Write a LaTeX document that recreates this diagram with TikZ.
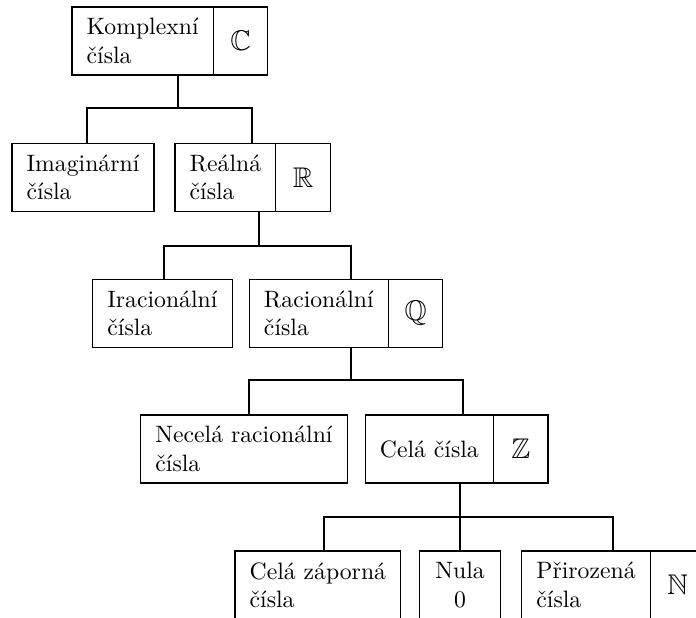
\documentclass[tikz,border=0pt]{standalone}
\usepackage{amsmath,amssymb}
\usepackage{tikz}
\usetikzlibrary{calc, positioning}

\begin{document}
\begin{tikzpicture}[x=0.422pt, y=-0.422pt,
    box/.style={draw, line width=0.5pt, anchor=north west, align=left, inner xsep=6.2pt, outer sep=0pt, minimum height=28.7pt},
    setbox/.style={draw, line width=0.5pt, outer sep=0pt, minimum width=23pt, minimum height=28.7pt, font=\large},
    edge/.style={line width=0.7pt}]
    \useasboundingbox (0,0) rectangle (696,617);

    % komplexni
    \node[box] (kompl) at (72,7) {Komplexní\\čísla};
    \node[setbox, right=0pt of kompl] (komplC) {$\mathbb{C}$};

    % imaginarni a realna
    \node[box] (imag) at (12,143.5) {Imaginární\\čísla};
    \node[box] (real) at (175,143.5) {Reálná\\čísla};
    \node[setbox, right=0pt of real] (realR) {$\mathbb{R}$};

    % iracionalni a racionalni
    \node[box] (irac) at (92.7,279.3) {Iracionální\\čísla};
    \node[box] (rac) at (249.3,279.3) {Racionální\\čísla};
    \node[setbox, right=0pt of rac] (racQ) {$\mathbb{Q}$};

    % necela a cela
    \node[box] (necela) at (140.7,415) {Necelá racionální\\čísla};
    \node[box] (cela) at (365.3,415) {Celá čísla};
    \node[setbox, right=0pt of cela] (celaZ) {$\mathbb{Z}$};

    % zaporna, nula, prirozena
    \node[box] (zapor) at (235,551) {Celá záporná\\čísla};
    \node[box, align=center, minimum width=34.4pt] (nula) at (419.3,551) {Nula\\0};
    \node[box] (prir) at (521.7,551) {Přirozená\\čísla};
    \node[setbox, right=0pt of prir] (prirN) {$\mathbb{N}$};

    % vetveni
    \coordinate (j1) at ($(kompl.south west)+(105.7,33)$);
    \coordinate (j2) at ($(real.south west)+(84.3,34.7)$);
    \coordinate (j3) at ($(rac.south west)+(102,33)$);
    \coordinate (j4) at ($(cela.south west)+(94.7,34)$);

    \draw[edge] (j1 |- kompl.south) -- (j1);
    \draw[edge] ($(imag.north west)+(74.7,0)$) |- (j1) -| ($(real.north west)+(77.3,0)$);

    \draw[edge] (j2 |- real.south) -- (j2);
    \draw[edge] ($(irac.north west)+(71.3,0)$) |- (j2) -| ($(rac.north west)+(101.7,0)$);

    \draw[edge] (j3 |- rac.south) -- (j3);
    \draw[edge] ($(necela.north west)+(108.6,0)$) |- (j3) -| ($(cela.north west)+(98,0)$);

    \draw[edge] (j4 |- cela.south) -- (j4);
    \draw[edge] ($(zapor.north west)+(89.3,0)$) |- (j4) -| ($(prir.north west)+(91.6,0)$);
    \draw[edge] (j4 |- nula.north) -- (j4);
\end{tikzpicture}
\end{document}
